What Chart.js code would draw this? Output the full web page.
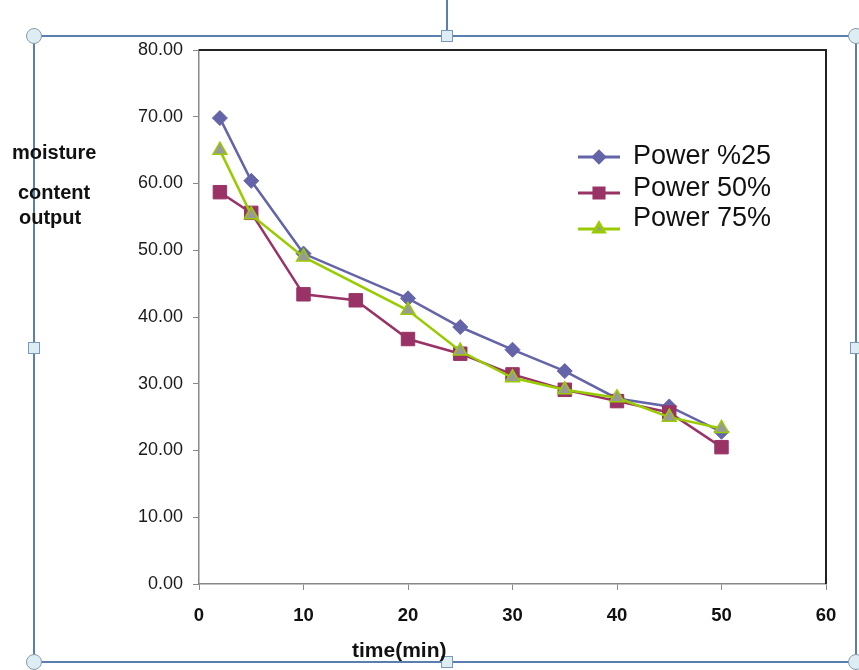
<!DOCTYPE html>
<html>
<head>
<meta charset="utf-8">
<script src="https://cdn.jsdelivr.net/npm/chart.js@4/dist/chart.umd.min.js"></script>
<style>
  body { margin: 0; background: #fff; }
  #wrap { position: relative; width: 859px; height: 670px; font-family: 'Liberation Sans', Arial, sans-serif; }
  #frame { position: absolute; left: 33px; top: 35px; width: 824px; height: 628px; border: 2px solid #5a7fae; box-sizing: border-box; }
  .circ { position: absolute; width: 16px; height: 16px; border-radius: 50%; background: #dceef4; border: 1.5px solid #8a9aa8; box-sizing: border-box; }
  .sq { position: absolute; width: 12px; height: 12px; background: #dceef4; border: 1.5px solid #7c98b8; box-sizing: border-box; }
  #rot { position: absolute; left: 446px; top: 0; width: 2px; height: 31px; background: #5a7fae; }
  .ytitle { position: absolute; font-weight: bold; font-size: 20px; color: #111; }
  #xtitle { position: absolute; left: 352px; top: 638px; font-weight: bold; font-size: 21px; line-height: 24px; color: #111; }
</style>
</head>
<body>
<div id="wrap">
  <div id="frame"></div>
  <div id="rot"></div>
  <canvas id="chart" width="859" height="670" style="position:absolute;left:0;top:0"></canvas>
  <div class="circ" style="left:26px;top:28px"></div>
  <div class="circ" style="left:848px;top:28px"></div>
  <div class="circ" style="left:26px;top:654px"></div>
  <div class="circ" style="left:848px;top:654px"></div>
  <div class="sq" style="left:441px;top:30px"></div>
  <div class="sq" style="left:441px;top:656px"></div>
  <div class="sq" style="left:28px;top:342px"></div>
  <div class="sq" style="left:850px;top:342px"></div>
  <div class="ytitle" style="left:12px;top:141px">moisture</div>
  <div class="ytitle" style="left:18px;top:181px">content</div>
  <div class="ytitle" style="left:19px;top:206px">output</div>
  <div id="xtitle">time(min)</div>
</div>
<script>
const seriesNames = ['Power %25', 'Power 50%', 'Power 75%'];

const time25 = [2, 5, 10, 20, 25, 30, 35, 40, 45, 50];
const power25 = [69.8, 60.4, 49.5, 42.8, 38.5, 35.1, 31.9, 27.8, 26.6, 22.8];

const time50 = [2, 5, 10, 15, 20, 25, 30, 35, 40, 45, 50];
const power50 = [58.7, 55.6, 43.4, 42.5, 36.7, 34.5, 31.4, 29.1, 27.4, 25.7, 20.5];

const time75 = [2, 5, 10, 20, 25, 30, 35, 40, 45, 50];
const power75 = [65.0, 55.3, 49.0, 41.0, 34.9, 30.9, 29.1, 27.9, 25.0, 23.3];

const xTicks = [0, 10, 20, 30, 40, 50, 60];
const yTicks = [0, 10, 20, 30, 40, 50, 60, 70, 80];

const pts = (xs, ys) => xs.map((x, i) => ({ x: x, y: ys[i] }));

const styles = [
  { line: '#6464a8', fill: '#6464a8', point: 'rectRot', radius: 7.5, order: 3 },
  { line: '#993366', fill: '#993366', point: 'rect', radius: 9.5, order: 2 },
  { line: '#99cc00', fill: '#999999', point: 'triangle', radius: 8, order: 1 }
];

const datasets = [pts(time25, power25), pts(time50, power50), pts(time75, power75)].map((d, i) => ({
  label: seriesNames[i],
  data: d,
  borderColor: styles[i].line,
  backgroundColor: styles[i].fill,
  pointBorderColor: i === 2 ? styles[i].line : styles[i].fill,
  pointBackgroundColor: styles[i].fill,
  pointStyle: styles[i].point,
  pointRadius: styles[i].radius,
  pointBorderWidth: i === 2 ? 1.5 : 1,
  borderWidth: 2.5,
  tension: 0,
  order: styles[i].order
}));

// dark border on the top and right of the plot area
const frameLines = {
  id: 'frameLines',
  beforeDatasetsDraw(chart) {
    const { ctx, chartArea: a } = chart;
    ctx.save();
    ctx.strokeStyle = '#222';
    ctx.lineWidth = 2;
    ctx.beginPath();
    ctx.moveTo(a.left, a.top);
    ctx.lineTo(a.right, a.top);
    ctx.lineTo(a.right, a.bottom);
    ctx.stroke();
    ctx.restore();
  }
};

// legend drawn inside the plot, top right
const boxLegend = {
  id: 'boxLegend',
  afterDraw(chart) {
    const ctx = chart.ctx;
    const rows = [157, 193, 229];
    const textY = [157, 189, 219];
    ctx.save();
    chart.data.datasets.forEach((ds, i) => {
      ctx.strokeStyle = ds.borderColor;
      ctx.lineWidth = 3;
      ctx.beginPath();
      ctx.moveTo(578, rows[i]);
      ctx.lineTo(620, rows[i]);
      ctx.stroke();
      ctx.fillStyle = ds.pointBackgroundColor;
      ctx.strokeStyle = ds.pointBorderColor;
      Chart.helpers.drawPoint(ctx, {
        pointStyle: ds.pointStyle,
        radius: ds.pointRadius * 0.75,
        rotation: 0,
        borderWidth: ds.pointBorderWidth
      }, 599, rows[i]);
      ctx.fillStyle = '#111';
      ctx.font = '27px "Liberation Sans", Arial, sans-serif';
      ctx.textBaseline = 'middle';
      ctx.textAlign = 'left';
      ctx.fillText(ds.label, 633, textY[i]);
    });
    ctx.restore();
  }
};

new Chart(document.getElementById('chart'), {
  type: 'line',
  data: { datasets: datasets },
  options: {
    responsive: false,
    animation: false,
    layout: { padding: { left: 0, top: 50, right: 33, bottom: 0 } },
    plugins: { legend: { display: false }, tooltip: { enabled: false } },
    scales: {
      x: {
        type: 'linear',
        min: 0,
        max: 60,
        afterBuildTicks: s => { s.ticks = xTicks.map(v => ({ value: v })); },
        afterFit: s => { s.height = 86; },
        border: { display: true, color: '#888', width: 1.5 },
        grid: { drawOnChartArea: false, drawTicks: true, tickLength: 6, color: '#888' },
        ticks: {
          padding: 15,
          color: '#111',
          font: { family: "'Liberation Sans', Arial, sans-serif", size: 18.5, weight: 'bold' }
        }
      },
      y: {
        min: 0,
        max: 80,
        afterBuildTicks: s => { s.ticks = yTicks.map(v => ({ value: v })); },
        afterFit: s => { s.width = 199; },
        border: { display: true, color: '#888', width: 1.5 },
        grid: { drawOnChartArea: false, drawTicks: true, tickLength: 6, color: '#888' },
        ticks: {
          padding: 10,
          color: '#1a1a1a',
          callback: v => Number(v).toFixed(2),
          font: { family: "'Liberation Sans', Arial, sans-serif", size: 18 }
        }
      }
    }
  },
  plugins: [frameLines, boxLegend]
});
</script>
</body>
</html>
